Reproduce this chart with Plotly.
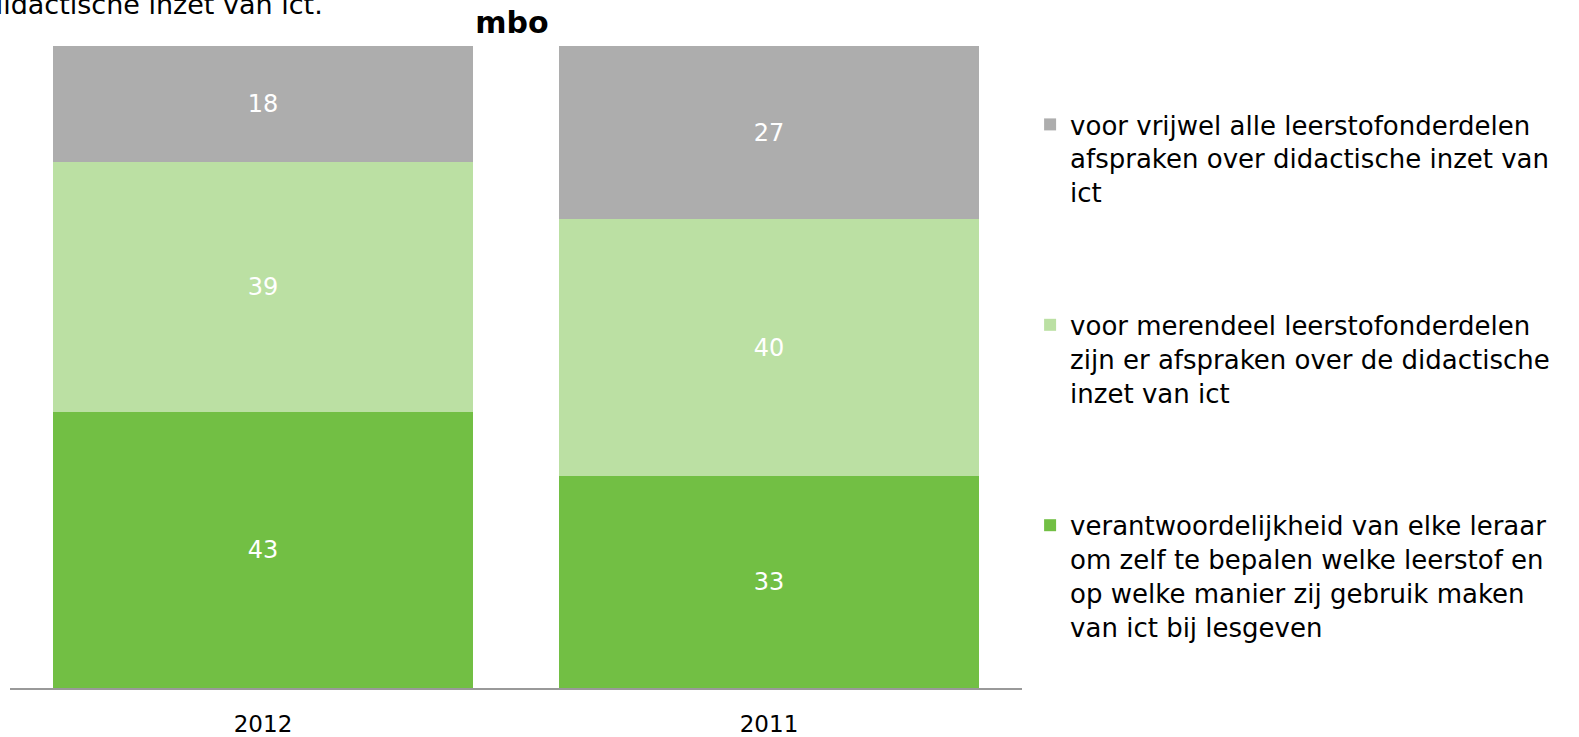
import plotly.graph_objects as go

categories = ["2012", "2011"]
series_names = [
    "verantwoordelijkheid van elke leraar<br>om zelf te bepalen welke leerstof en<br>op welke manier zij gebruik maken<br>van ict bij lesgeven",
    "voor merendeel leerstofonderdelen<br>zijn er afspraken over de didactische<br>inzet van ict",
    "voor vrijwel alle leerstofonderdelen<br>afspraken over didactische inzet van<br>ict",
]
values_green = [43, 33]
values_lightgreen = [39, 40]
values_gray = [18, 27]
colors = ["#72BF44", "#BBE0A3", "#ADADAD"]
legend_ranks = [3, 2, 1]

FONT = "DejaVu Sans"

fig = go.Figure()
for i, (name, vals) in enumerate(zip(series_names, [values_green, values_lightgreen, values_gray])):
    fig.add_trace(go.Bar(
        x=categories, y=vals, name=name,
        marker=dict(color=colors[i], line=dict(width=0)),
        text=[str(v) for v in vals], textposition="inside", insidetextanchor="middle",
        textfont=dict(color="white", size=24, family=FONT),
        legendgroup=f"g{i}", legendrank=legend_ranks[i],
    ))

PLOT_H = 737 - 46 - 49
PLOT_W = 1579 - 10 - 557

fig.update_layout(
    width=1579, height=737,
    barmode="stack", bargap=0.17,
    plot_bgcolor="white", paper_bgcolor="white",
    margin=dict(l=10, r=557, t=46, b=49, autoexpand=False),
    font=dict(family=FONT, color="#000000"),
    title=dict(text="<b>mbo</b>", x=512 / 1579, xanchor="center", y=1 - 22 / 737, yanchor="middle",
               font=dict(size=30, family=FONT, color="#000000")),
    showlegend=True,
    legend=dict(
        x=1.008, xanchor="left", y=(688 - 101) / PLOT_H, yanchor="top",
        traceorder="grouped", tracegroupgap=96, valign="top",
        font=dict(size=26, family=FONT, color="#000000"),
        itemwidth=30, bgcolor="rgba(0,0,0,0)",
    ),
    xaxis=dict(
        range=[-0.5, 1.5], showline=True, linecolor="#999999", linewidth=2,
        ticks="", tickfont=dict(size=23, family=FONT, color="#000000"),
        ticklabelstandoff=14, showgrid=False, zeroline=False,
    ),
    yaxis=dict(range=[0, 100], visible=False, showgrid=False, zeroline=False),
    annotations=[dict(
        text="didactische inzet van ict.", xref="paper", yref="paper",
        x=(-16 - 10) / PLOT_W, xanchor="left", y=1 + (46 - 22) / PLOT_H, yanchor="bottom",
        showarrow=False, font=dict(size=27, family=FONT, color="#000000"),
    )],
)

fig.write_html("out.html", config={"displayModeBar": False},
               post_script="document.body.style.margin='0';")
